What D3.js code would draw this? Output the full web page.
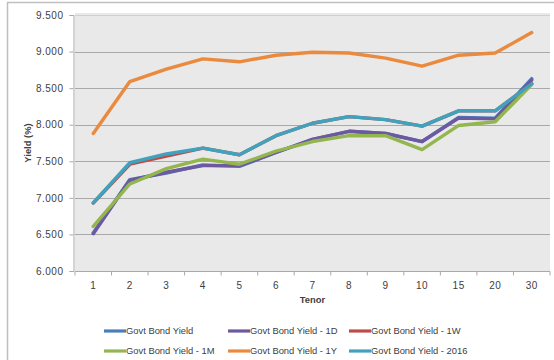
<!DOCTYPE html>
<html>
<head>
<meta charset="utf-8">
<script src="https://cdn.jsdelivr.net/npm/d3@7"></script>
<style>
  html, body { margin: 0; padding: 0; background: #ffffff; }
  svg { display: block; }
  text { font-family: "Liberation Sans", Arial, sans-serif; fill: #404040; }
</style>
</head>
<body>
<svg id="chart" width="554" height="360"></svg>
<script>
// Tenor categories (years)
const tenors = ["1", "2", "3", "4", "5", "6", "7", "8", "9", "10", "15", "20", "30"];

// Yield series (%)
const govtYield   = [6.52, 7.25, 7.34, 7.45, 7.43, 7.62, 7.80, 7.91, 7.88, 7.77, 8.10, 8.09, 8.63];
const yield1D     = [6.51, 7.24, 7.35, 7.44, 7.44, 7.62, 7.80, 7.91, 7.88, 7.77, 8.09, 8.08, 8.61];
const yield1W     = [6.93, 7.46, 7.57, 7.68, 7.59, 7.85, 8.02, 8.11, 8.07, 7.98, 8.19, 8.19, 8.56];
const yield1M     = [6.61, 7.19, 7.40, 7.53, 7.46, 7.64, 7.77, 7.85, 7.85, 7.66, 7.99, 8.04, 8.55];
const yield1Y     = [7.88, 8.59, 8.76, 8.90, 8.86, 8.95, 8.99, 8.98, 8.91, 8.80, 8.95, 8.98, 9.26];
const yield2016   = [6.93, 7.48, 7.60, 7.68, 7.59, 7.85, 8.02, 8.11, 8.07, 7.98, 8.19, 8.19, 8.56];

const seriesNames = ["Govt Bond Yield", "Govt Bond Yield - 1D", "Govt Bond Yield - 1W",
                     "Govt Bond Yield - 1M", "Govt Bond Yield - 1Y", "Govt Bond Yield - 2016"];
const seriesValues = [govtYield, yield1D, yield1W, yield1M, yield1Y, yield2016];

// Y axis ticks
const yTicks = [6.0, 6.5, 7.0, 7.5, 8.0, 8.5, 9.0, 9.5];

const colors = ["#4A7EBB", "#6E58A0", "#BE4B48", "#93B64F", "#EA8A3E", "#40A2BC"];

const svg = d3.select("#chart");

// outer chart frame
svg.append("rect")
  .attr("x", 7.5).attr("y", 2.5)
  .attr("width", 560).attr("height", 370)
  .attr("fill", "#ffffff")
  .attr("stroke", "#BFBFBF").attr("stroke-width", 1.5);

const plot = { left: 75, right: 550, top: 15, bottom: 271 };

const x = d3.scaleBand().domain(tenors).range([plot.left, plot.right]).padding(0);
const y = d3.scaleLinear().domain([6, 9.5]).range([plot.bottom, plot.top]);
const cx = d => x(d) + x.bandwidth() / 2;

// plot background
svg.append("rect")
  .attr("x", plot.left).attr("y", plot.top - 2)
  .attr("width", plot.right - plot.left).attr("height", plot.bottom - plot.top + 2)
  .attr("fill", "#E9E9E9");

// horizontal gridlines
svg.append("g")
  .selectAll("line")
  .data(yTicks)
  .join("line")
  .attr("x1", plot.left).attr("x2", plot.right)
  .attr("y1", d => Math.round(y(d)) + 0.5).attr("y2", d => Math.round(y(d)) + 0.5)
  .attr("stroke", d => d === 9.5 ? "#D0D0D0" : "#A9A9A9")
  .attr("stroke-width", 1);

// y axis
const yAxis = d3.axisLeft(y).tickValues(yTicks).tickFormat(d3.format(".3f")).tickSize(4).tickPadding(6);
const yg = svg.append("g").attr("transform", `translate(${plot.left - 1.5},0)`).call(yAxis);
yg.select(".domain").attr("stroke", "#A9A9A9");
yg.selectAll(".tick line").attr("stroke", "#A9A9A9");
yg.selectAll(".tick text")
  .attr("font-size", "10px")
  .attr("letter-spacing", "0.5px")
  .attr("fill", "#404040")
  .attr("font-family", "'Liberation Sans', Arial, sans-serif");

// x axis with ticks on category boundaries
const xg = svg.append("g").attr("transform", `translate(0,${Math.round(y(6)) + 0.5})`);
xg.append("line")
  .attr("x1", plot.left).attr("x2", plot.right)
  .attr("stroke", "#A9A9A9");
xg.selectAll("line.tk")
  .data(tenors.concat(["end"]))
  .join("line")
  .attr("class", "tk")
  .attr("x1", (d, i) => plot.left + i * x.bandwidth())
  .attr("x2", (d, i) => plot.left + i * x.bandwidth())
  .attr("y1", 0).attr("y2", 4)
  .attr("stroke", "#A9A9A9");
xg.selectAll("text")
  .data(tenors)
  .join("text")
  .attr("x", d => cx(d))
  .attr("y", 17)
  .attr("text-anchor", "middle")
  .attr("font-size", "10px")
  .attr("letter-spacing", "0.5px")
  .text(d => d);

// lines
const line = d3.line()
  .x((v, i) => cx(tenors[i]))
  .y(v => y(v));

svg.append("g")
  .selectAll("path")
  .data(seriesValues)
  .join("path")
  .attr("d", d => line(d))
  .attr("fill", "none")
  .attr("stroke", (d, i) => colors[i])
  .attr("stroke-width", 3.4)
  .attr("stroke-linejoin", "round")
  .attr("stroke-linecap", "round");

// axis titles
svg.append("text")
  .attr("transform", `translate(31,${(plot.top + plot.bottom) / 2}) rotate(-90)`)
  .attr("text-anchor", "middle")
  .attr("font-size", "9.4px")
  .attr("font-weight", "bold")
  .attr("fill", "#000")
  .text("Yield (%)");

svg.append("text")
  .attr("x", (plot.left + plot.right) / 2)
  .attr("y", 303)
  .attr("text-anchor", "middle")
  .attr("font-size", "9.4px")
  .attr("font-weight", "bold")
  .attr("fill", "#000")
  .text("Tenor");

// legend, 3 columns x 2 rows
const legendCols = [104, 228, 349];
const legendRows = [331, 351];
const lg = svg.append("g")
  .selectAll("g")
  .data(seriesNames)
  .join("g")
  .attr("transform", (d, i) => `translate(${legendCols[i % 3]},${legendRows[Math.floor(i / 3)]})`);
lg.append("line")
  .attr("x1", 0).attr("x2", 22)
  .attr("y1", 0).attr("y2", 0)
  .attr("stroke", (d, i) => colors[i])
  .attr("stroke-width", 3.2);
lg.append("text")
  .attr("x", 22)
  .attr("y", 3.3)
  .attr("font-size", "9.4px")
  .attr("fill", "#404040")
  .text(d => d);
</script>
</body>
</html>
